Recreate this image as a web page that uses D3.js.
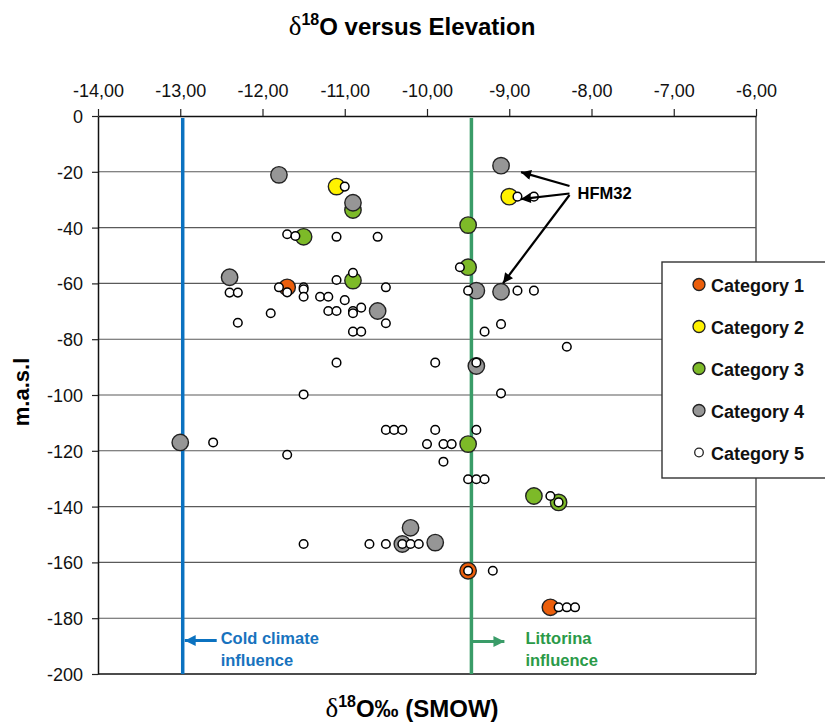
<!DOCTYPE html>
<html>
<head>
<meta charset="utf-8">
<script src="https://cdn.jsdelivr.net/npm/d3@7"></script>
<style>
  html, body { margin: 0; padding: 0; background: #fff; }
  svg { display: block; }
  text { font-family: "Liberation Sans", Arial, sans-serif; }
</style>
</head>
<body>
<svg id="chart" width="825" height="722"></svg>
<script>
// δ18O (‰ SMOW) and elevation (m.a.s.l) per sample, grouped by category
const cat1 = [[-11.70, -61.4], [-9.50, -163.0], [-8.50, -176.1]];
const cat2 = [[-11.10, -25.3], [-9.00, -28.9]];
const cat3 = [[-10.90, -33.7], [-11.50, -43.3], [-10.90, -59.0], [-9.50, -39.1], [-9.50, -54.2],
              [-9.50, -117.6], [-8.70, -136.2], [-8.40, -138.5]];
const cat4 = [[-11.80, -21.1], [-10.90, -31.1], [-12.40, -57.8], [-10.60, -69.9], [-9.10, -17.8],
              [-9.40, -62.6], [-9.10, -63.0], [-13.00, -117.0], [-9.40, -89.6], [-10.20, -147.6],
              [-10.30, -153.4], [-9.90, -152.9]];
const cat5 = [
  [-11.00, -25.3], [-11.70, -42.4], [-11.60, -43.0], [-11.10, -43.3], [-10.60, -43.3],
  [-10.90, -56.2], [-11.10, -58.8], [-10.50, -61.4], [-11.80, -61.4], [-11.70, -63.2],
  [-11.50, -61.4], [-11.50, -62.1], [-11.50, -64.8], [-12.40, -63.3], [-12.30, -63.3],
  [-11.30, -64.8], [-11.20, -64.8], [-11.00, -66.0], [-11.20, -69.9], [-11.10, -69.9],
  [-10.90, -69.9], [-10.90, -70.7], [-10.80, -68.7], [-11.90, -70.7], [-12.30, -74.1],
  [-10.50, -74.3], [-10.90, -77.3], [-10.80, -77.3],
  [-8.90, -28.9], [-8.70, -28.9],
  [-9.60, -54.2], [-9.50, -62.6], [-8.90, -62.6], [-8.70, -62.6], [-9.30, -77.3],
  [-9.10, -74.6], [-8.30, -82.7],
  [-11.10, -88.4], [-11.50, -99.8], [-12.60, -117.0], [-11.70, -121.4],
  [-10.50, -112.5], [-10.40, -112.5], [-10.30, -112.5],
  [-9.90, -88.4], [-9.40, -88.4], [-9.10, -99.4], [-9.90, -112.5], [-9.40, -112.5],
  [-10.00, -117.6], [-9.80, -117.6], [-9.70, -117.6], [-9.80, -123.9],
  [-9.50, -130.2], [-9.40, -130.2], [-9.30, -130.2], [-8.50, -136.2], [-8.40, -138.5],
  [-11.50, -153.4], [-10.70, -153.4], [-10.50, -153.4], [-10.30, -153.4], [-10.20, -153.4],
  [-10.10, -153.4],
  [-9.50, -163.0], [-9.20, -163.0], [-8.40, -176.1], [-8.30, -176.1], [-8.20, -176.1]
];

const categoryNames = ["Category 1", "Category 2", "Category 3", "Category 4", "Category 5"];
const categoryColors = ["#EB5E0B", "#FFF200", "#7DBA28", "#969696", "#FFFFFF"];

const xTicks = [-14, -13, -12, -11, -10, -9, -8, -7, -6];
const yTicks = [0, -20, -40, -60, -80, -100, -120, -140, -160, -180, -200];

// reference δ18O thresholds
const coldClimateValue = -12.97;
const littorinaValue = -9.46;

// HFM32 samples the annotation points to
const hfm32 = [[-9.10, -17.8], [-9.00, -28.9], [-9.10, -63.0]];

const svg = d3.select("#chart");
const plotLeft = 98, plotRight = 756, plotTop = 116, plotBottom = 674;

const x = d3.scaleLinear().domain([-14, -6]).range([plotLeft, plotRight]);
const y = d3.scaleLinear().domain([0, -200]).range([plotTop, plotBottom]);

const locale = d3.formatLocale({ decimal: ",", thousands: ".", grouping: [3], currency: ["", ""], minus: "-" });
const fmtX = locale.format(".2f");
const fmtY = locale.format("d");

// title
const title = svg.append("text")
  .attr("x", 412).attr("y", 35)
  .attr("text-anchor", "middle")
  .style("font-size", "24px").style("font-weight", "bold");
title.append("tspan").text("δ").style("font-family", "'Liberation Serif', serif").style("font-weight", "normal").style("font-size", "27px");
title.append("tspan").text("18").attr("dy", -10).style("font-size", "16px");
title.append("tspan").text("O versus Elevation").attr("dy", 10);

// horizontal gridlines
svg.append("g")
  .selectAll("line")
  .data(yTicks.filter(v => v !== 0 && v !== -200))
  .join("line")
  .attr("x1", plotLeft).attr("x2", plotRight)
  .attr("y1", d => y(d)).attr("y2", d => y(d))
  .attr("stroke", "#5a5a5a").attr("stroke-width", 1.1);

// plot frame
svg.append("line").attr("x1", plotRight).attr("x2", plotRight).attr("y1", plotTop).attr("y2", plotBottom)
  .attr("stroke", "#555").attr("stroke-width", 1.5);
svg.append("line").attr("x1", plotLeft).attr("x2", plotRight).attr("y1", plotBottom).attr("y2", plotBottom)
  .attr("stroke", "#111").attr("stroke-width", 1.6);

// axes
const xAxis = svg.append("g")
  .attr("transform", `translate(0,${plotTop})`)
  .call(d3.axisTop(x).tickValues(xTicks).tickFormat(fmtX).tickSize(7).tickSizeOuter(0).tickPadding(12));
const yAxis = svg.append("g")
  .attr("transform", `translate(${plotLeft},0)`)
  .call(d3.axisLeft(y).tickValues(yTicks).tickFormat(fmtY).tickSize(6).tickSizeOuter(0).tickPadding(9));
[xAxis, yAxis].forEach(g => {
  g.selectAll("text").style("font-size", "18px").attr("fill", "#111")
    .style("font-family", "'Liberation Sans', Arial, sans-serif");
  g.selectAll("line").attr("stroke", "#222").attr("stroke-width", 1.2);
  g.select(".domain").attr("stroke", "#111").attr("stroke-width", 1.5);
});
yAxis.selectAll("text").attr("dy", "0.36em");

// reference lines
svg.append("line")
  .attr("x1", x(coldClimateValue)).attr("x2", x(coldClimateValue))
  .attr("y1", plotTop + 2).attr("y2", plotBottom)
  .attr("stroke", "#0B72C0").attr("stroke-width", 3.5);
svg.append("line")
  .attr("x1", x(littorinaValue)).attr("x2", x(littorinaValue))
  .attr("y1", plotTop + 2).attr("y2", plotBottom)
  .attr("stroke", "#3A9C68").attr("stroke-width", 3.5);

// data points, category 1 underneath and category 5 on top
const series = [cat1, cat2, cat3, cat4, cat5];
series.forEach((pts, i) => {
  svg.append("g")
    .selectAll("circle")
    .data(pts)
    .join("circle")
    .attr("cx", d => x(d[0]))
    .attr("cy", d => y(d[1]))
    .attr("r", i === 4 ? 4.3 : 8.2)
    .attr("fill", categoryColors[i])
    .attr("stroke", i === 4 ? "#000" : "#222")
    .attr("stroke-width", i === 4 ? 1.5 : 1.4);
});

// arrow markers
const defs = svg.append("defs");
function arrowMarker(id, color, w, h) {
  defs.append("marker")
    .attr("id", id)
    .attr("viewBox", "0 0 10 10")
    .attr("refX", 10).attr("refY", 5)
    .attr("markerUnits", "userSpaceOnUse")
    .attr("markerWidth", w).attr("markerHeight", h)
    .attr("orient", "auto")
    .append("path").attr("d", "M0,0 L10,5 L0,10 Z").attr("fill", color);
}
arrowMarker("arrowBlack", "#000", 12, 10);
arrowMarker("arrowBlue", "#0B72C0", 11, 11);
arrowMarker("arrowGreen", "#3A9C68", 11, 11);

// HFM32 annotation
const labelX = x(-8.17), labelY = y(-27.6);
svg.append("text")
  .attr("x", labelX).attr("y", labelY + 5.5)
  .style("font-size", "16.5px").style("font-weight", "bold")
  .text("HFM32");
const tipOffsets = [[20, 6.5], [11.5, 2.5], [2, -8.5]];
const startOffsets = [[-8, -7], [-8, 0.5], [-8, 2]];
hfm32.forEach((p, i) => {
  svg.append("line")
    .attr("x1", labelX + startOffsets[i][0]).attr("y1", labelY + startOffsets[i][1])
    .attr("x2", x(p[0]) + tipOffsets[i][0]).attr("y2", y(p[1]) + tipOffsets[i][1])
    .attr("stroke", "#000").attr("stroke-width", 2.2)
    .attr("marker-end", "url(#arrowBlack)");
});

// influence annotations
const noteY = y(-188);
svg.append("line")
  .attr("x1", x(coldClimateValue) + 34).attr("x2", x(coldClimateValue) + 2)
  .attr("y1", noteY).attr("y2", noteY)
  .attr("stroke", "#0B72C0").attr("stroke-width", 3)
  .attr("marker-end", "url(#arrowBlue)");
const coldText = svg.append("text")
  .attr("x", x(coldClimateValue) + 38).attr("y", noteY + 3)
  .attr("fill", "#1873BE")
  .style("font-size", "16.5px").style("font-weight", "bold");
coldText.append("tspan").attr("x", x(coldClimateValue) + 38).text("Cold climate");
coldText.append("tspan").attr("x", x(coldClimateValue) + 38).attr("dy", 22).text("influence");

svg.append("line")
  .attr("x1", x(littorinaValue) + 1).attr("x2", x(littorinaValue) + 33)
  .attr("y1", noteY + 1).attr("y2", noteY + 1)
  .attr("stroke", "#3A9C68").attr("stroke-width", 3)
  .attr("marker-end", "url(#arrowGreen)");
const litText = svg.append("text")
  .attr("x", x(littorinaValue) + 54).attr("y", noteY + 3)
  .attr("fill", "#2A9A48")
  .style("font-size", "16.5px").style("font-weight", "bold");
litText.append("tspan").attr("x", x(littorinaValue) + 54).text("Littorina");
litText.append("tspan").attr("x", x(littorinaValue) + 54).attr("dy", 22).text("influence");

// axis titles
const xTitle = svg.append("text")
  .attr("x", 412).attr("y", 717)
  .attr("text-anchor", "middle")
  .style("font-size", "24px").style("font-weight", "bold");
xTitle.append("tspan").text("δ").style("font-family", "'Liberation Serif', serif").style("font-weight", "normal").style("font-size", "27px");
xTitle.append("tspan").text("18").attr("dy", -10).style("font-size", "16px");
xTitle.append("tspan").text("O‰ (SMOW)").attr("dy", 10);

svg.append("text")
  .attr("transform", "translate(29,392) rotate(-90)")
  .attr("text-anchor", "middle")
  .style("font-size", "22px").style("font-weight", "bold")
  .text("m.a.s.l");

// legend
const legend = svg.append("g");
legend.append("rect")
  .attr("x", 662).attr("y", 262).attr("width", 180).attr("height", 216)
  .attr("fill", "#fff").attr("stroke", "#333").attr("stroke-width", 1.4);
categoryNames.forEach((name, i) => {
  const cy = 284.5 + i * 42;
  legend.append("circle")
    .attr("cx", 699).attr("cy", cy)
    .attr("r", i === 4 ? 4.3 : 6)
    .attr("fill", categoryColors[i])
    .attr("stroke", "#222").attr("stroke-width", 1.3);
  legend.append("text")
    .attr("x", 711).attr("y", cy + 7)
    .style("font-size", "18px").style("font-weight", "bold")
    .attr("fill", "#111")
    .text(name);
});
</script>
</body>
</html>
